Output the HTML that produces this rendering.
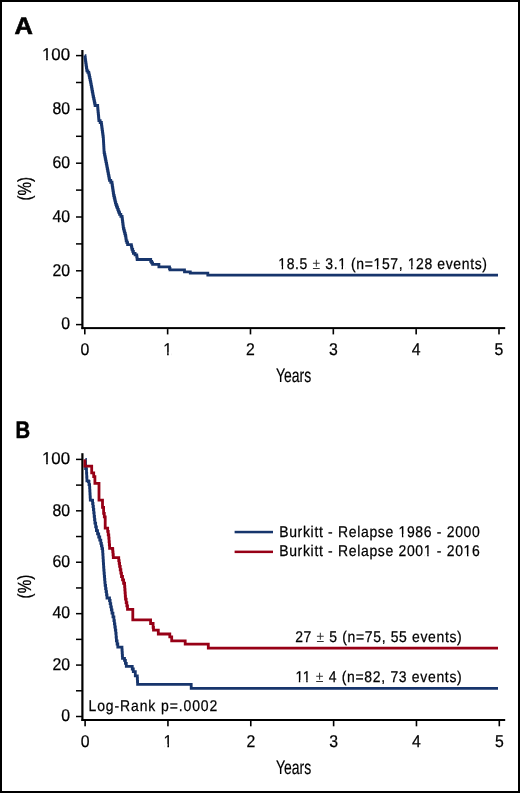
<!DOCTYPE html>
<html><head><meta charset="utf-8"><title>Kaplan-Meier</title>
<style>
html,body{margin:0;padding:0;background:#fff;width:520px;height:793px;overflow:hidden;}
svg{display:block;will-change:transform;}
text{font-family:"Liberation Sans", sans-serif;fill:#111;text-rendering:geometricPrecision;}
.pl{font-weight:bold;font-size:24px;fill:#000;stroke:#000;stroke-width:0.6px;}
.tk{font-size:17px;fill:#000;stroke:#000;stroke-width:0.25px;}
.ttl{font-size:19.5px;fill:#000;stroke:#000;stroke-width:0.2px;}
.pm{stroke:none;fill:#333;}
.pct{font-size:19px;fill:#000;stroke:#000;stroke-width:0.2px;}
.an{font-size:15.5px;fill:#000;stroke:#000;stroke-width:0.25px;}
</style></head><body>
<svg width="520" height="793" viewBox="0 0 520 793">
<rect x="0" y="0" width="520" height="793" fill="#fff"/>
<rect x="1" y="1" width="518" height="791" fill="none" stroke="#000" stroke-width="2"/>
<text x="14.5" y="34.1" class="pl" textLength="18.4" lengthAdjust="spacingAndGlyphs">A</text>
<text x="15.6" y="437.6" class="pl" textLength="14.6" lengthAdjust="spacingAndGlyphs">B</text>
<rect x="81.3" y="50.0" width="2.2" height="279.1" fill="#000"/>
<rect x="81.5" y="327.1" width="423.7" height="2" fill="#000"/>
<rect x="76" y="323.85" width="6" height="1.5" fill="#000"/>
<rect x="76" y="296.95" width="6" height="1.5" fill="#000"/>
<rect x="76" y="270.05" width="6" height="1.5" fill="#000"/>
<rect x="76" y="243.15" width="6" height="1.5" fill="#000"/>
<rect x="76" y="216.25" width="6" height="1.5" fill="#000"/>
<rect x="76" y="189.35" width="6" height="1.5" fill="#000"/>
<rect x="76" y="162.45" width="6" height="1.5" fill="#000"/>
<rect x="76" y="135.55" width="6" height="1.5" fill="#000"/>
<rect x="76" y="108.65" width="6" height="1.5" fill="#000"/>
<rect x="76" y="81.75" width="6" height="1.5" fill="#000"/>
<rect x="76" y="54.85" width="6" height="1.5" fill="#000"/>
<rect x="84.00" y="329.1" width="1.6" height="5.3" fill="#000"/>
<rect x="166.84" y="329.1" width="1.6" height="5.3" fill="#000"/>
<rect x="249.68" y="329.1" width="1.6" height="5.3" fill="#000"/>
<rect x="332.52" y="329.1" width="1.6" height="5.3" fill="#000"/>
<rect x="415.36" y="329.1" width="1.6" height="5.3" fill="#000"/>
<rect x="498.20" y="329.1" width="1.6" height="5.3" fill="#000"/>
<text transform="translate(70.10 329.40) scale(0.93 1)" text-anchor="end" class="tk">0</text>
<text transform="translate(70.10 275.60) scale(0.93 1)" text-anchor="end" class="tk">20</text>
<text transform="translate(70.10 221.80) scale(0.93 1)" text-anchor="end" class="tk">40</text>
<text transform="translate(70.10 168.00) scale(0.93 1)" text-anchor="end" class="tk">60</text>
<text transform="translate(70.10 114.20) scale(0.93 1)" text-anchor="end" class="tk">80</text>
<text transform="translate(70.10 60.40) scale(0.99 1)" text-anchor="end" class="tk">100</text>
<text transform="translate(84.80 354.60) scale(0.93 1)" text-anchor="middle" class="tk">0</text>
<text transform="translate(167.64 354.60) scale(0.93 1)" text-anchor="middle" class="tk">1</text>
<text transform="translate(250.48 354.60) scale(0.93 1)" text-anchor="middle" class="tk">2</text>
<text transform="translate(333.32 354.60) scale(0.93 1)" text-anchor="middle" class="tk">3</text>
<text transform="translate(416.16 354.60) scale(0.93 1)" text-anchor="middle" class="tk">4</text>
<text transform="translate(499.00 354.60) scale(0.93 1)" text-anchor="middle" class="tk">5</text>
<rect x="81.3" y="453.2" width="2.2" height="267.8" fill="#000"/>
<rect x="81.5" y="719.0" width="423.7" height="2" fill="#000"/>
<rect x="76" y="715.75" width="6" height="1.5" fill="#000"/>
<rect x="76" y="690.04" width="6" height="1.5" fill="#000"/>
<rect x="76" y="664.33" width="6" height="1.5" fill="#000"/>
<rect x="76" y="638.62" width="6" height="1.5" fill="#000"/>
<rect x="76" y="612.91" width="6" height="1.5" fill="#000"/>
<rect x="76" y="587.20" width="6" height="1.5" fill="#000"/>
<rect x="76" y="561.49" width="6" height="1.5" fill="#000"/>
<rect x="76" y="535.78" width="6" height="1.5" fill="#000"/>
<rect x="76" y="510.07" width="6" height="1.5" fill="#000"/>
<rect x="76" y="484.36" width="6" height="1.5" fill="#000"/>
<rect x="76" y="458.65" width="6" height="1.5" fill="#000"/>
<rect x="84.30" y="721.0" width="1.6" height="5.3" fill="#000"/>
<rect x="167.14" y="721.0" width="1.6" height="5.3" fill="#000"/>
<rect x="249.98" y="721.0" width="1.6" height="5.3" fill="#000"/>
<rect x="332.82" y="721.0" width="1.6" height="5.3" fill="#000"/>
<rect x="415.66" y="721.0" width="1.6" height="5.3" fill="#000"/>
<rect x="498.50" y="721.0" width="1.6" height="5.3" fill="#000"/>
<text transform="translate(70.10 721.30) scale(0.93 1)" text-anchor="end" class="tk">0</text>
<text transform="translate(70.10 669.88) scale(0.93 1)" text-anchor="end" class="tk">20</text>
<text transform="translate(70.10 618.46) scale(0.93 1)" text-anchor="end" class="tk">40</text>
<text transform="translate(70.10 567.04) scale(0.93 1)" text-anchor="end" class="tk">60</text>
<text transform="translate(70.10 515.62) scale(0.93 1)" text-anchor="end" class="tk">80</text>
<text transform="translate(70.10 464.20) scale(0.99 1)" text-anchor="end" class="tk">100</text>
<text transform="translate(85.10 746.60) scale(0.93 1)" text-anchor="middle" class="tk">0</text>
<text transform="translate(167.94 746.60) scale(0.93 1)" text-anchor="middle" class="tk">1</text>
<text transform="translate(250.78 746.60) scale(0.93 1)" text-anchor="middle" class="tk">2</text>
<text transform="translate(333.62 746.60) scale(0.93 1)" text-anchor="middle" class="tk">3</text>
<text transform="translate(416.46 746.60) scale(0.93 1)" text-anchor="middle" class="tk">4</text>
<text transform="translate(499.30 746.60) scale(0.93 1)" text-anchor="middle" class="tk">5</text>
<text x="276" y="381.8" class="ttl" textLength="35.2" lengthAdjust="spacingAndGlyphs">Years</text>
<text x="276" y="773.6" class="ttl" textLength="35.2" lengthAdjust="spacingAndGlyphs">Years</text>
<text transform="translate(30.7 200.6) rotate(-90)" class="pct" textLength="23.6" lengthAdjust="spacingAndGlyphs">(%)</text>
<text transform="translate(30.7 598.4) rotate(-90)" class="pct" textLength="23.6" lengthAdjust="spacingAndGlyphs">(%)</text>
<text transform="translate(278.30 268.50) scale(0.900 1)" class="an" textLength="231.78" lengthAdjust="spacing">18.5 <tspan class="pm">±</tspan> 3.1 (n=157, 128 events)</text>
<text transform="translate(295.20 641.90) scale(0.900 1)" class="an" textLength="185.00" lengthAdjust="spacing">27 <tspan class="pm">±</tspan> 5 (n=75, 55 events)</text>
<text transform="translate(295.40 681.70) scale(0.900 1)" class="an" textLength="184.78" lengthAdjust="spacing">11 <tspan class="pm">±</tspan> 4 (n=82, 73 events)</text>
<text transform="translate(88.50 710.70) scale(0.900 1)" class="an" textLength="143.11" lengthAdjust="spacing">Log-Rank p=.0002</text>
<rect x="234.6" y="530.8" width="38.4" height="2.5" fill="#17356c"/>
<rect x="234.6" y="550.6" width="38.4" height="2.5" fill="#970016"/>
<text transform="translate(279.20 536.50) scale(0.900 1)" class="an" textLength="222.89" lengthAdjust="spacing">Burkitt - Relapse 1986 - 2000</text>
<text transform="translate(279.20 556.00) scale(0.900 1)" class="an" textLength="222.89" lengthAdjust="spacing">Burkitt - Relapse 2001 - 2016</text>
<rect x="42.69" y="58.00" width="3.45" height="4.00" fill="#fff"/>
<rect x="47.83" y="58.00" width="3.32" height="4.00" fill="#fff"/>
<rect x="163.84" y="352.00" width="3.27" height="4.00" fill="#fff"/>
<rect x="168.71" y="352.00" width="3.15" height="4.00" fill="#fff"/>
<rect x="42.69" y="462.00" width="3.45" height="4.00" fill="#fff"/>
<rect x="47.83" y="462.00" width="3.32" height="4.00" fill="#fff"/>
<rect x="164.14" y="744.00" width="3.27" height="4.00" fill="#fff"/>
<rect x="169.01" y="744.00" width="3.15" height="4.00" fill="#fff"/>
<rect x="278.76" y="266.00" width="2.95" height="4.00" fill="#fff"/>
<rect x="283.14" y="266.00" width="2.84" height="4.00" fill="#fff"/>
<rect x="338.64" y="266.00" width="2.95" height="4.00" fill="#fff"/>
<rect x="343.01" y="266.00" width="2.84" height="4.00" fill="#fff"/>
<rect x="373.98" y="266.00" width="2.95" height="4.00" fill="#fff"/>
<rect x="378.36" y="266.00" width="2.84" height="4.00" fill="#fff"/>
<rect x="408.16" y="266.00" width="2.95" height="4.00" fill="#fff"/>
<rect x="412.54" y="266.00" width="2.84" height="4.00" fill="#fff"/>
<rect x="295.86" y="680.00" width="2.95" height="3.00" fill="#fff"/>
<rect x="300.24" y="680.00" width="2.84" height="3.00" fill="#fff"/>
<rect x="303.28" y="680.00" width="2.95" height="3.00" fill="#fff"/>
<rect x="307.66" y="680.00" width="2.84" height="3.00" fill="#fff"/>
<rect x="398.96" y="534.00" width="2.95" height="4.00" fill="#fff"/>
<rect x="403.34" y="534.00" width="2.84" height="4.00" fill="#fff"/>
<rect x="424.28" y="554.00" width="2.95" height="4.00" fill="#fff"/>
<rect x="428.66" y="554.00" width="2.84" height="4.00" fill="#fff"/>
<rect x="464.06" y="554.00" width="2.95" height="4.00" fill="#fff"/>
<rect x="468.44" y="554.00" width="2.84" height="4.00" fill="#fff"/>
<path d="M84.80 55.60H85.03V57.35H85.25V59.10H85.47V60.85H85.70V62.60H85.94V64.24H86.18V65.88H86.42V67.52H86.66V69.16H86.90V70.80H87.85V72.40H88.80V74.00H89.18V75.76H89.56V77.52H89.94V79.28H90.32V81.04H90.70V82.80H91.01V84.54H91.33V86.28H91.64V88.01H91.95V89.75H92.26V91.49H92.58V93.22H92.89V94.96H93.20V96.70H93.58V98.46H93.96V100.22H94.34V101.98H94.72V103.74H95.10V105.50H97.70V108.00H97.87V109.80H98.04V111.60H98.21V113.40H98.39V115.20H98.56V117.00H98.73V118.80H98.90V120.60H100.15V122.50H101.40V124.40H101.64V126.14H101.88V127.88H102.11V129.61H102.35V131.35H102.59V133.09H102.83V134.83H103.06V136.56H103.30V138.30H103.40V140.09H103.50V141.88H103.60V143.66H103.70V145.45H103.80V147.24H103.90V149.03H104.00V150.81H104.10V152.60H104.46V154.40H104.81V156.20H105.17V158.00H105.53V159.80H105.89V161.60H106.24V163.40H106.60V165.20H106.92V166.89H107.24V168.58H107.57V170.27H107.89V171.96H108.21V173.64H108.53V175.33H108.86V177.02H109.18V178.71H109.50V180.40H110.75V182.25H112.00V184.10H112.24V185.73H112.49V187.36H112.73V188.99H112.97V190.61H113.21V192.24H113.46V193.87H113.70V195.50H114.12V197.26H114.54V199.02H114.96V200.78H115.38V202.54H115.80V204.30H116.43V205.98H117.07V207.67H117.70V209.35H118.33V211.03H118.97V212.72H119.60V214.40H120.85V216.30H122.10V218.20H122.32V219.88H122.53V221.57H122.75V223.25H122.97V224.93H123.18V226.62H123.40V228.30H123.86V230.04H124.32V231.78H124.78V233.52H125.24V235.26H125.70V237.00H125.95V238.90H126.20V240.80H126.90V242.70H127.60V244.60H131.00H131.33V246.20H131.67V247.80H132.00V249.40H132.70V251.35H133.40V253.30H135.07V254.95H136.75V256.60H136.97V258.05H137.20V259.50H149.25H150.70V261.40H151.65V262.85H152.60V264.30H158.40H158.90V266.80H168.90H169.50V268.50H170.00V269.80H184.30H184.50V271.80H190.30H190.30V273.20H207.80H207.80V275.20H498.00" fill="none" stroke="#17356c" stroke-width="2.8" stroke-linejoin="miter" stroke-linecap="butt"/>
<path d="M85.40 459.40H85.47V462.47H85.53V465.53H85.60V468.60H86.50V473.20H86.70V477.00H86.90V480.80H88.40V481.50H89.00V484.55H89.60V487.60H89.77V490.73H89.95V493.85H90.12V496.98H90.30V500.10H92.20V500.50H92.60V503.50H93.00V506.50H93.40V509.50H93.78V512.90H94.15V516.30H94.53V519.70H94.90V523.10H95.65V526.90H96.40V530.70H97.55V533.85H98.70V537.00H99.75V540.15H100.80V543.30H101.40V545.97H102.00V548.63H102.60V551.30H102.80V554.45H103.00V557.60H103.20V560.75H103.40V563.90H103.60V567.05H103.80V570.20H104.06V573.24H104.32V576.28H104.58V579.32H104.84V582.36H105.10V585.40H105.57V588.55H106.05V591.70H106.53V594.85H107.00V598.00H109.50V600.50H110.12V603.65H110.75V606.80H111.38V609.95H112.00V613.10H112.95V616.90H113.90V620.70H114.38V623.85H114.85V627.00H115.33V630.15H115.80V633.30H116.10V637.05H116.40V640.80H117.10V644.00H117.80V647.20H121.80H121.97V649.98H122.15V652.75H122.33V655.52H122.50V658.30H124.50V660.30H125.40V663.30H126.30V666.30H131.20H132.25V669.00H133.30V671.70H135.30V675.80H137.30V678.50H137.45V681.45H137.60V684.40H191.20H191.20V688.30H498.00" fill="none" stroke="#17356c" stroke-width="2.8" stroke-linecap="butt"/>
<path d="M84.9 459.4V466.2H91.7V472.8H93.7V476.6H94.9V483.4H99V500.1H102.5V507.3H103.6V513.3H104.3V516.8H105.2V528.1H107.1H107.67V531.47H108.23V534.83H108.80V538.20H109.07V541.57H109.33V544.93H109.60V548.30H112.50V549.00H112.77V551.87H113.03V554.73H113.30V557.60H118.30H118.73V560.53H119.17V563.47H119.60V566.40H120.23V569.77H120.87V573.13H121.50V576.50H122.53V579.87H123.57V583.23H124.60V586.60H124.82V589.75H125.05V592.90H125.28V596.05H125.50V599.20H126.17V602.57H126.83V605.93H127.50V609.30H132.80H132.80V612.80H132.80V616.30H132.80V619.80H149.60H150.60V623.50H153.10V627.30H153.50V630.20H158.30H158.30V634.00H168.80H169.80V636.90H171.70V640.80H185.20H185.20V644.20H208.30H208.30V648.10H498.00" fill="none" stroke="#970016" stroke-width="2.8" stroke-linecap="butt"/>
</svg>
</body></html>
